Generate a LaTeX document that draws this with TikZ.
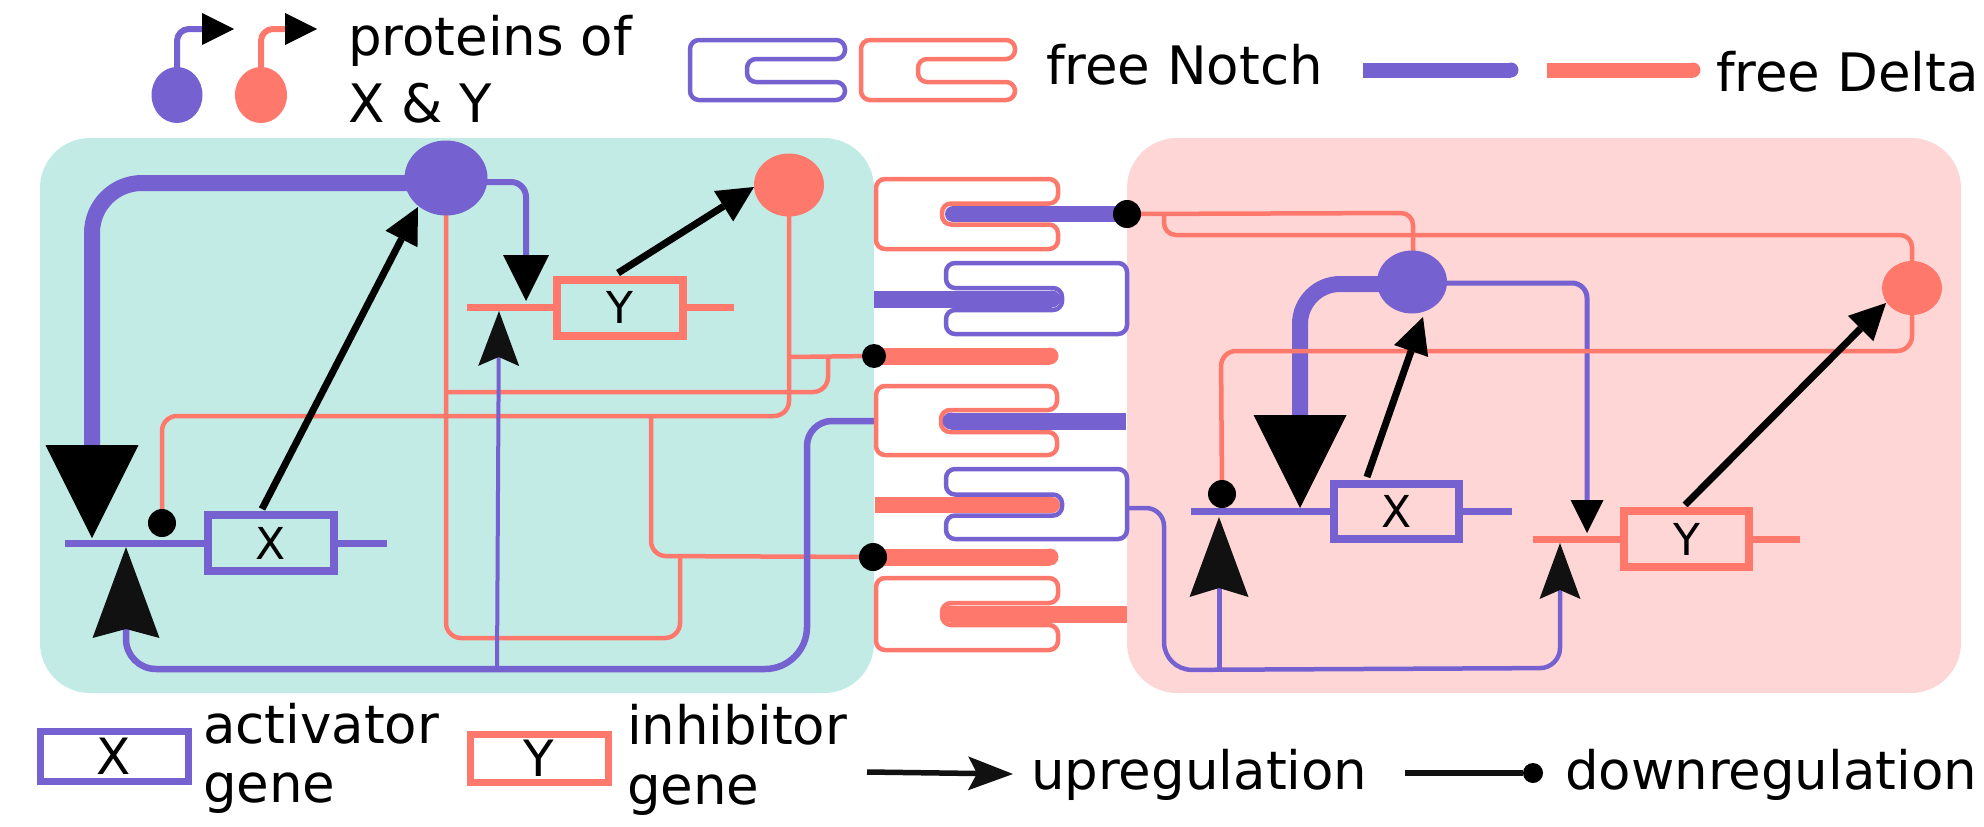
\documentclass[tikz,border=0pt]{standalone}
\usepackage{fontspec}
\setmainfont{DejaVu Sans}
\usetikzlibrary{arrows.meta,shapes.geometric}
\definecolor{nblue}{RGB}{118,97,209}
\definecolor{dsal}{RGB}{255,120,108}
\definecolor{cyanbg}{RGB}{194,235,230}
\definecolor{pinkbg}{RGB}{255,214,214}
\definecolor{tipk}{RGB}{17,17,17}
\newcommand{\NotchR}[8]{\draw[#1,line width=4.5pt,fill=white,rounded corners=9pt] (#3,#4) -- (#2,#4) -- (#2,#5) -- (#3,#5) -- (#3,#8) -- (#6,#8) -- (#6,#7) -- (#3,#7) -- cycle;}
\newcommand{\NotchL}[8]{\draw[#1,line width=4.5pt,fill=white,rounded corners=9pt] (#2,#4) -- (#3,#4) -- (#3,#5) -- (#2,#5) -- (#2,#8) -- (#6,#8) -- (#6,#7) -- (#2,#7) -- cycle;}
\begin{document}
\begin{tikzpicture}[x=1pt,y=-1pt,
  lbl/.style={font=\fontsize{53}{60}\selectfont,inner sep=0pt,outer sep=0pt,anchor=base west},
  genebox/.style={draw=#1,line width=8pt,minimum width=126pt,minimum height=56pt,inner sep=0pt,font=\fontsize{44}{44}\selectfont},
  prot/.style={ellipse,fill=#1,inner sep=0pt,outer sep=0pt},
  blackdot/.style={circle,fill=black,inner sep=0pt,outer sep=0pt,minimum size=#1},
  bigtri/.style={-{Triangle[length=#1,width=#1,line width=0pt,color=black,fill=black]}},
  stl/.style 2 args={-{Stealth[length=#1,width=#2,inset=9pt,line width=0pt,color=tipk,fill=tipk]}},
  upreg/.style={line width=7pt,black,-{Triangle[length=36pt,width=36pt,line width=0pt,color=black,fill=black]}},
  thins/.style={dsal,line width=4.5pt},
  geneline/.style={line width=7pt,#1},
]
\useasboundingbox (0,0) rectangle (1984,827);

% panels
\fill[cyanbg,rounded corners=50pt] (40,138) rectangle (874,693);
\fill[pinkbg,rounded corners=50pt] (1127,138) rectangle (1961,693);

% ---------- top legend
\draw[nblue,line width=6pt,rounded corners=12pt,bigtri=32pt] (177,95) -- (177,29) -- (234,29);
\draw[dsal,line width=6pt,rounded corners=12pt,bigtri=32pt] (261,95) -- (261,29) -- (317,29);
\node[prot=nblue,minimum width=51pt,minimum height=56pt] (lgX) at (177,95) {};
\node[prot=dsal,minimum width=52pt,minimum height=56pt] (lgY) at (261,95) {};
\node[lbl] (tprot) at (348,55) {proteins of};
\node[lbl] (txy) at (348,122) {X \& Y};
\NotchR{nblue}{690}{845}{40}{100}{747}{59}{82}
\NotchR{dsal}{861}{1015}{40}{100}{918}{59}{82}
\node[lbl] (tnotch) at (1046,84) {free Notch};
\draw[nblue,line width=15pt] (1363,70) -- (1511,70);
\fill[nblue] (1511,70) circle (7.5pt);
\draw[dsal,line width=15pt] (1547,70) -- (1693,70);
\fill[dsal] (1693,70) circle (7.5pt);
\node[lbl] (tdelta) at (1716,91) {free Delta};

% ---------- left cell
\coordinate (pXA) at (446,178);
\coordinate (pYA) at (789,185);
\coordinate (dA1) at (162,523);
\coordinate (dA2) at (874,356);
\coordinate (dA3) at (873,557);
\draw[geneline=nblue] (65,543) -- (387,543);
\draw[geneline=dsal] (467,307) -- (734,307);
\draw[nblue,line width=16pt,rounded corners=50pt,bigtri=93pt] (446,183) -- (92,183) -- (92,538);
\draw[nblue,line width=6pt,rounded corners=15pt,bigtri=46pt] (446,182) -- (526,182) -- (526,301);
\draw[thins,rounded corners=15pt] (pXA) -- (446,638) -- (680,638) -- (680,556);
\draw[thins,rounded corners=15pt] (pYA) -- (789,416) -- (162,416) -- (dA1);
\draw[thins,rounded corners=15pt] (651,416) -- (651,556) -- (dA3);
\draw[thins] (789,357) -- (dA2);
\draw[thins,rounded corners=15pt] (828,357) -- (828,392) -- (446,392);
\draw[nblue,line width=6.5pt,stl={91pt}{67pt}] (875,421) [rounded corners=25pt] -- (807,421) [rounded corners=42pt] -- (807,669) [rounded corners=30pt] -- (126,669) -- (126,547);
\draw[nblue,line width=4pt,stl={55pt}{41pt}] (497,669) -- (499,311);
\draw[upreg] (262,509) -- (418,207);
\draw[upreg] (618,273) -- (754,187);
\node[prot=nblue,minimum width=83pt,minimum height=75pt] (XA) at (pXA) {};
\node[prot=dsal,minimum width=70pt,minimum height=63pt] (YA) at (pYA) {};
\node[genebox=nblue,fill=cyanbg] (gXA) at (271,543) {X};
\node[genebox=dsal,fill=cyanbg] (gYA) at (620,307.5) {Y};
\node[blackdot=28pt] (DA1) at (dA1) {};

% ---------- junction column
\NotchR{dsal}{876}{1058}{179}{249}{942}{203.5}{224.5}
\draw[nblue,line width=16pt] (953,214) -- (1127,214);
\fill[nblue] (953,214) circle (8pt);
\NotchL{nblue}{946}{1127}{263}{334}{1062}{288}{310}
\draw[nblue,line width=17pt] (874,299) -- (1052,299);
\fill[nblue] (1052,299) circle (8.5pt);
\draw[dsal,line width=17pt] (874,356) -- (1050,356);
\fill[dsal] (1050,356) circle (8.5pt);
\NotchR{dsal}{876}{1057}{386}{455}{941}{410}{432}
\draw[nblue,line width=17pt] (951,421) -- (1126,421);
\fill[nblue] (951,421) circle (8.5pt);
\NotchL{nblue}{946}{1127}{469}{539}{1062}{494.5}{515.5}
\draw[dsal,line width=16pt] (875,505) -- (1052,505);
\fill[dsal] (1052,505) circle (8pt);
\draw[dsal,line width=17pt] (874,557) -- (1050,557);
\fill[dsal] (1050,557) circle (8.5pt);
\NotchR{dsal}{876}{1058}{578}{650}{942}{603}{625}
\draw[dsal,line width=17pt] (951,614) -- (1127,614);
\fill[dsal] (951,614) circle (8.5pt);
\node[blackdot=24pt] (DA2) at (dA2) {};
\node[blackdot=28pt] (DA3) at (dA3) {};

% ---------- right cell
\coordinate (pXB) at (1412,282);
\coordinate (pYB) at (1912,288);
\coordinate (dB1) at (1127,214);
\coordinate (dB2) at (1222,494);
\draw[geneline=nblue] (1191,511) -- (1512,511);
\draw[geneline=dsal] (1533,539) -- (1800,539);
\draw[nblue,line width=16pt,rounded corners=40pt,bigtri=93pt] (1412,284) -- (1300,284) -- (1300,508);
\draw[nblue,line width=5pt,rounded corners=15pt,bigtri=33pt] (1412,283) -- (1587,283) -- (1587,533);
\draw[thins,rounded corners=12pt] (dB1) -- (1413,213) -- (1413,282);
\draw[thins,rounded corners=12pt] (1164,213) -- (1164,235) -- (1912,235) -- (pYB);
\draw[thins,rounded corners=15pt] (pYB) -- (1912,351) -- (1221,351) -- (dB2);
\draw[nblue,line width=4.5pt,stl={56pt}{41pt}] (1127,508) [rounded corners=18pt] -- (1164,508) [rounded corners=28pt] -- (1164,670) [rounded corners=20pt] -- (1560,668) -- (1560,543);
\draw[nblue,line width=5pt,stl={80pt}{59pt}] (1219,670) -- (1219,517);
\draw[upreg] (1367,477) -- (1423,317);
\draw[upreg] (1685,505) -- (1886,303);
\node[prot=nblue,minimum width=70pt,minimum height=63pt] (XB) at (pXB) {};
\node[prot=dsal,minimum width=60pt,minimum height=54pt] (YB) at (pYB) {};
\node[genebox=nblue,fill=pinkbg,minimum width=125pt,minimum height=55pt] (gXB) at (1396.5,511.5) {X};
\node[genebox=dsal,fill=pinkbg,minimum width=125pt] (gYB) at (1686.5,539) {Y};
\node[blackdot=28pt] (DB1) at (dB1) {};
\node[blackdot=28pt] (DB2) at (dB2) {};

% ---------- bottom legend
\node[genebox=nblue,line width=7pt,minimum width=148pt,minimum height=50pt,font=\fontsize{50}{50}\selectfont] (lgXg) at (114,756) {X};
\node[lbl] (tact) at (203,743) {activator};
\node[lbl] (tgene1) at (203,802) {gene};
\node[genebox=dsal,line width=7pt,minimum width=138pt,minimum height=48pt,font=\fontsize{50}{50}\selectfont] (lgYg) at (539,758) {Y};
\node[lbl] (tinh) at (627,744) {inhibitor};
\node[lbl] (tgene2) at (627,804) {gene};
\coordinate (ua) at (867,772);
\coordinate (ub) at (1013,774);
\draw[line width=5.5pt,tipk,stl={45pt}{34pt}] (ua) -- (ub);
\node[lbl] (tup) at (1031,789) {upregulation};
\coordinate (da) at (1405,773);
\node[blackdot=20pt] (ddot) at (1533,773) {};
\draw[line width=5.5pt,tipk] (da) -- (ddot);
\node[lbl] (tdown) at (1565,789) {downregulation};
\end{tikzpicture}
\end{document}
